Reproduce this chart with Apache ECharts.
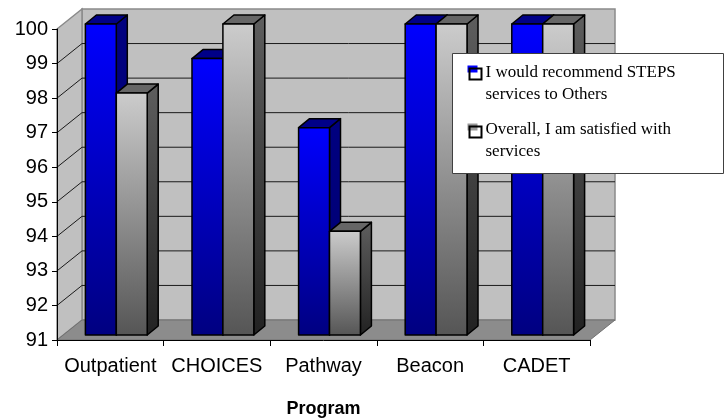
<!DOCTYPE html>
<html>
<head>
<meta charset="utf-8">
<script src="https://cdn.jsdelivr.net/npm/echarts@6/dist/echarts.min.js"></script>
<style>
  html, body { margin: 0; padding: 0; background: #ffffff; }
  #chart { width: 725px; height: 418px; }
</style>
</head>
<body>
<div id="chart"></div>
<script>
// Survey results by program (percent agreeing)
const categories = ['Outpatient', 'CHOICES', 'Pathway', 'Beacon', 'CADET'];
const recommendValues = [100, 99, 97, 100, 100];
const satisfiedValues = [98, 100, 94, 100, 100];
const seriesNames = [
  'I would recommend STEPS services to Others',
  'Overall, I am satisfied with services'
];
const legendLines = [
  ['I would recommend STEPS', 'services to Others'],
  ['Overall, I am satisfied with', 'services']
];
const axisTitle = 'Program';
const Y_MIN = 91, Y_MAX = 100, Y_STEP = 1;

// 3-D look: depth of the chart box and of each column
const WALL_DX = 25, WALL_DY = -20;
const BAR_DX = 6, BAR_DY = -5;
const SIDE_DX = 11, SIDE_DY = -9;

const chart = echarts.init(document.getElementById('chart'), null, { renderer: 'canvas' });

function renderWalls(params, api) {
  const cs = params.coordSys;
  const x0 = cs.x, x1 = cs.x + cs.width;
  const yT = cs.y, yB = cs.y + cs.height;
  const kids = [];
  kids.push({ type: 'polygon', shape: { points: [[x0 + WALL_DX, yT + WALL_DY], [x1 + WALL_DX, yT + WALL_DY], [x1 + WALL_DX, yB + WALL_DY], [x0 + WALL_DX, yB + WALL_DY]] },
    style: { fill: '#C0C0C0', stroke: '#8a8a8a', lineWidth: 1.5 } });
  kids.push({ type: 'polygon', shape: { points: [[x0, yT], [x0 + WALL_DX, yT + WALL_DY], [x0 + WALL_DX, yB + WALL_DY], [x0, yB]] },
    style: { fill: '#C0C0C0', stroke: '#8a8a8a', lineWidth: 1.5 } });
  kids.push({ type: 'polygon', shape: { points: [[x0, yB], [x1, yB], [x1 + WALL_DX, yB + WALL_DY], [x0 + WALL_DX, yB + WALL_DY]] },
    style: { fill: '#8c8c8c', stroke: '#707070', lineWidth: 1 } });
  for (let v = Y_MIN + Y_STEP; v < Y_MAX; v += Y_STEP) {
    const y = api.coord([0, v])[1];
    kids.push({ type: 'polyline', shape: { points: [[x0, y], [x0 + WALL_DX, y + WALL_DY], [x1 + WALL_DX, y + WALL_DY]] },
      style: { fill: null, stroke: '#1a1a1a', lineWidth: 1 } });
  }
  return { type: 'group', children: kids };
}

function makeBarRenderer(slot, pal) {
  return function (params, api) {
    const idx = api.value(0), val = api.value(1);
    const bw = api.size([1, 0])[0];
    const w = bw * 0.29;
    const base = api.coord([idx, Y_MIN]);
    const top = api.coord([idx, val]);
    const cx = base[0] + BAR_DX;
    const x = slot === 0 ? cx - w : cx;
    const yT = top[1] + BAR_DY, yB = base[1] + BAR_DY;
    const edge = { stroke: '#000000', lineWidth: 1.5, lineJoin: 'round' };
    return {
      type: 'group',
      children: [
        { type: 'polygon', shape: { points: [[x + w, yT], [x + w + SIDE_DX, yT + SIDE_DY], [x + w + SIDE_DX, yB + SIDE_DY], [x + w, yB]] },
          style: Object.assign({ fill: new echarts.graphic.LinearGradient(0, 0, 0, 1, [{ offset: 0, color: pal.sideTop }, { offset: 1, color: pal.sideBot }]) }, edge) },
        { type: 'polygon', shape: { points: [[x, yT], [x + SIDE_DX, yT + SIDE_DY], [x + w + SIDE_DX, yT + SIDE_DY], [x + w, yT]] },
          style: Object.assign({ fill: pal.cap }, edge) },
        { type: 'rect', shape: { x: x, y: yT, width: w, height: yB - yT },
          style: Object.assign({ fill: new echarts.graphic.LinearGradient(0, 0, 0, 1, [{ offset: 0, color: pal.frontTop }, { offset: 1, color: pal.frontBot }]) }, edge) }
      ]
    };
  };
}

const bluePal = { frontTop: '#0000FF', frontBot: '#000080', sideTop: '#000080', sideBot: '#000070', cap: '#000088' };
const grayPal = { frontTop: '#CCCCCC', frontBot: '#555555', sideTop: '#5e5e5e', sideBot: '#222222', cap: '#666666' };

// Legend box drawn above the plot
const legendX = 452, legendY = 53;
const legendFont = '17px "Liberation Serif"';
const legendItems = [
  { type: 'rect', shape: { x: 0, y: 0, width: 271, height: 120 }, style: { fill: '#ffffff', stroke: '#404040', lineWidth: 1 } },
  { type: 'rect', shape: { x: 15, y: 12, width: 10, height: 7 }, style: { fill: '#0000FF' } },
  { type: 'rect', shape: { x: 17, y: 15, width: 12, height: 11 }, style: { fill: null, stroke: '#000', lineWidth: 2 } },
  { type: 'text', x: 33, y: 8, style: { text: legendLines[0].join('\n'), font: legendFont, fill: '#000', lineHeight: 22, verticalAlign: 'top' } },
  { type: 'rect', shape: { x: 15, y: 70, width: 10, height: 7 }, style: { fill: '#999999' } },
  { type: 'rect', shape: { x: 17, y: 73, width: 12, height: 11 }, style: { fill: null, stroke: '#000', lineWidth: 2 } },
  { type: 'text', x: 33, y: 65, style: { text: legendLines[1].join('\n'), font: legendFont, fill: '#000', lineHeight: 22, verticalAlign: 'top' } }
].map(el => Object.assign(el, { z: 100 }));

chart.setOption({
  animation: false,
  backgroundColor: '#ffffff',
  grid: { left: 57, right: 135, top: 29, bottom: 78, containLabel: false, outerBoundsMode: 'none' },
  xAxis: {
    type: 'category', data: categories, z: 5,
    name: axisTitle, nameLocation: 'middle', nameGap: 60,
    nameTextStyle: { fontFamily: 'Liberation Sans', fontWeight: 'bold', fontSize: 18, color: '#000' },
    axisLine: { lineStyle: { color: '#000', width: 1 } },
    axisTick: { show: true, length: 6, lineStyle: { color: '#000' } },
    axisLabel: { interval: 0, margin: 16, fontFamily: 'Liberation Sans', fontSize: 20, color: '#000' },
    splitLine: { show: false }
  },
  yAxis: {
    type: 'value', min: Y_MIN, max: Y_MAX, interval: Y_STEP, z: 5,
    axisLine: { show: true, lineStyle: { color: '#000', width: 1 } },
    axisTick: { show: true, length: 5, lineStyle: { color: '#000' } },
    axisLabel: { margin: 9, fontFamily: 'Liberation Sans', fontSize: 20, color: '#000' },
    splitLine: { show: false }
  },
  graphic: [{ type: 'group', left: legendX, top: legendY, z: 100, children: legendItems }],
  series: [
    { type: 'custom', name: 'walls', silent: true, z: 1, clip: false,
      data: [[0, Y_MIN]], encode: { x: 0, y: 1 }, renderItem: renderWalls },
    { type: 'custom', name: seriesNames[0], z: 2, clip: false,
      data: recommendValues.map((v, i) => [i, v]), encode: { x: 0, y: 1 }, renderItem: makeBarRenderer(0, bluePal) },
    { type: 'custom', name: seriesNames[1], z: 3, clip: false,
      data: satisfiedValues.map((v, i) => [i, v]), encode: { x: 0, y: 1 }, renderItem: makeBarRenderer(1, grayPal) }
  ]
});
</script>
</body>
</html>
